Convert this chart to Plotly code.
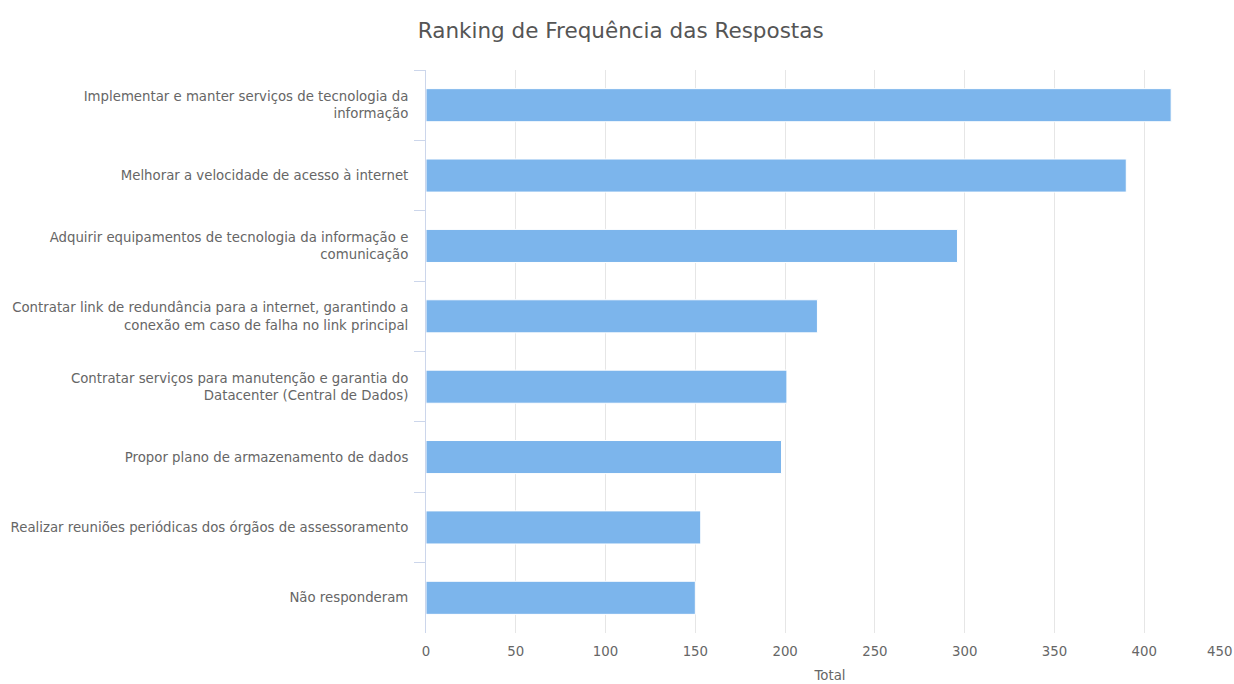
import plotly.graph_objects as go

# Response categories (top to bottom) and their counts
categories = [
    "Implementar e manter serviços de tecnologia da<br>informação",
    "Melhorar a velocidade de acesso à internet",
    "Adquirir equipamentos de tecnologia da informação e<br>comunicação",
    "Contratar link de redundância para a internet, garantindo a<br>conexão em caso de falha no link principal",
    "Contratar serviços para manutenção e garantia do<br>Datacenter (Central de Dados)",
    "Propor plano de armazenamento de dados",
    "Realizar reuniões periódicas dos órgãos de assessoramento",
    "Não responderam",
]
totals = [415, 390, 296, 218, 201, 198, 153, 150]

x_ticks = [0, 50, 100, 150, 200, 250, 300, 350, 400, 450]
x_tick_text = ["0", "50", "100", "150", "200", "250", "300", "350", "400", "450"]

FONT = "DejaVu Sans"
LABEL_COLOR = "#666666"
LABEL_SIZE = 13.3

fig = go.Figure(
    go.Bar(
        x=totals,
        y=categories,
        orientation="h",
        marker=dict(color="#7cb5ec", line=dict(color="#ffffff", width=1)),
        hovertemplate="%{y}: %{x}<extra></extra>",
    )
)

fig.update_layout(
    width=1234,
    height=684,
    margin=dict(l=426, r=0, t=70, b=51),
    paper_bgcolor="white",
    plot_bgcolor="white",
    bargap=0.53,
    showlegend=False,
    title=dict(
        text="Ranking de Frequência das Respostas",
        x=0.503,
        xanchor="center",
        y=0.955,
        yanchor="middle",
        font=dict(family=FONT, size=21.5, color="#555555"),
    ),
    font=dict(family=FONT, size=LABEL_SIZE, color=LABEL_COLOR),
)

# Last value label sits at the right edge, so it is drawn right-anchored
fig.update_xaxes(
    range=[0, 450],
    tickvals=x_ticks[:-1],
    ticktext=x_tick_text[:-1],
    showgrid=True,
    gridcolor="#e6e6e6",
    gridwidth=1,
    zeroline=False,
    showline=False,
    ticks="",
    ticklabelstandoff=9,
    tickfont=dict(family=FONT, size=LABEL_SIZE, color=LABEL_COLOR),
    title=dict(text="Total", font=dict(family=FONT, size=LABEL_SIZE, color=LABEL_COLOR), standoff=12),
)
fig.add_annotation(
    x=x_ticks[-1], y=0, xref="x", yref="paper",
    text=x_tick_text[-1], showarrow=False,
    xanchor="right", yanchor="top", yshift=-9,
    font=dict(family=FONT, size=LABEL_SIZE, color=LABEL_COLOR),
)

fig.update_yaxes(
    type="category",
    autorange="reversed",
    showgrid=False,
    showline=True,
    linecolor="#ccd6eb",
    linewidth=1,
    ticks="outside",
    tickson="boundaries",
    ticklen=11,
    tickcolor="#ccd6eb",
    ticklabelstandoff=14,
    tickfont=dict(family=FONT, size=LABEL_SIZE, color=LABEL_COLOR),
)

fig.write_html("out.html")
